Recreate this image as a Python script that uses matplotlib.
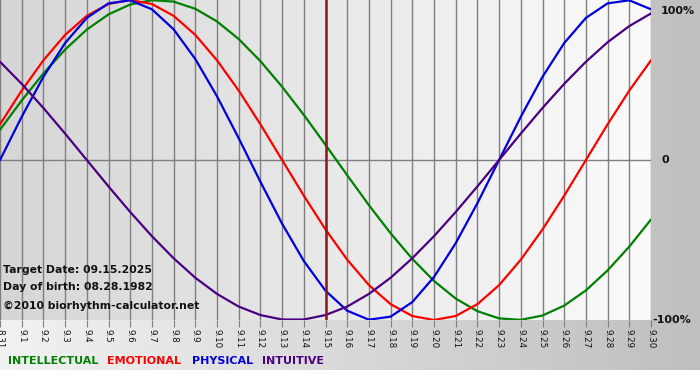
import numpy as np
import matplotlib
matplotlib.use('Agg')
import matplotlib.pyplot as plt
from matplotlib.colors import LinearSegmentedColormap

# ===== DADOS =====
day_labels = ['8.31'] + ['9.%d' % d for d in range(1, 31)]

physical = [0.000, 0.270, 0.520, 0.731, 0.888, 0.979, 0.998, 0.942, 0.817, 0.631,
            0.398, 0.136, -0.136, -0.398, -0.631, -0.817, -0.942, -0.998, -0.979, -0.888,
            -0.731, -0.520, -0.270, 0.000, 0.270, 0.520, 0.731, 0.888, 0.979, 0.998, 0.942]
emotional = [0.223, 0.434, 0.623, 0.782, 0.901, 0.975, 1.000, 0.975, 0.901, 0.782,
             0.623, 0.434, 0.223, 0.000, -0.223, -0.434, -0.623, -0.782, -0.901, -0.975,
             -1.000, -0.975, -0.901, -0.782, -0.623, -0.434, -0.223, 0.000, 0.223, 0.434, 0.623]
intellectual = [0.189, 0.372, 0.541, 0.690, 0.815, 0.910, 0.972, 0.999, 0.990, 0.945,
                0.866, 0.756, 0.618, 0.458, 0.282, 0.095, -0.095, -0.282, -0.458, -0.618,
                -0.756, -0.866, -0.945, -0.990, -0.999, -0.972, -0.910, -0.815, -0.690, -0.541, -0.372]
intuitive = [0.614, 0.476, 0.325, 0.165, 0.000, -0.165, -0.325, -0.476, -0.614, -0.736,
             -0.837, -0.916, -0.969, -0.997, -0.997, -0.969, -0.916, -0.837, -0.736, -0.614,
             -0.476, -0.325, -0.165, 0.000, 0.165, 0.325, 0.476, 0.614, 0.736, 0.837, 0.916]

target_idx = 15
y_labels = ['100%', '0', '-100%']
y_values = [1, 0, -1]

series = [
    ('INTELLECTUAL', intellectual, '#008000'),
    ('EMOTIONAL', emotional, '#ff0000'),
    ('PHYSICAL', physical, '#0000dd'),
    ('INTUITIVE', intuitive, '#4b0082'),
]

W, H = 700, 380
fig = plt.figure(figsize=(W / 100, H / 100), dpi=100)

# fundo externo (gradiente claro -> cinza)
bg = fig.add_axes([0, 10 / H, 1, 370 / H])
bg.set_axis_off()
grad = np.linspace(0, 1, 256).reshape(1, -1)
cm_out = LinearSegmentedColormap.from_list('out', ['#f2f2f2', '#bfbfbf'])
bg.imshow(grad, aspect='auto', cmap=cm_out, extent=[0, 1, 0, 1])
bg.set_xlim(0, 1)
bg.set_ylim(0, 1)

# ===== GRÁFICO =====
ax = fig.add_axes([0, 60 / H, 651 / W, 320 / H])
x = np.arange(len(day_labels))
cm_in = LinearSegmentedColormap.from_list('in', ['#d6d6d6', '#fbfbfb'])
ax.imshow(grad, aspect='auto', cmap=cm_in, extent=[0, 30, -1, 1], zorder=0)

for xi in x:
    ax.axvline(xi, color='#7f7f7f', linewidth=1, zorder=1)
ax.axhline(0, color='#7f7f7f', linewidth=1, zorder=1)

for name, vals, col in series:
    ax.plot(x, vals, color=col, linewidth=1.6, zorder=3, solid_capstyle='round')

ax.axvline(target_idx, color='#8b1a1a', linewidth=1.8, zorder=4)

ax.set_xlim(0, 30)
ax.set_ylim(-1, 1)
ax.set_xticks(x)
ax.set_xticklabels(day_labels, rotation=-90, fontsize=6.3, color='#111111')
ax.tick_params(axis='x', length=5, color='#7f7f7f', pad=1.5)
ax.set_yticks([])
for s in ax.spines.values():
    s.set_visible(False)

# rótulos do eixo direito
y_pos = [0.93, 0, -1]
x_off = [10 / 651, 10 / 651, 1 / 651]
for yp, xo, lab in zip(y_pos, x_off, y_labels):
    ax.text(1.0 + xo, yp, lab, transform=ax.get_yaxis_transform(), fontsize=8,
            fontweight='bold', color='#111111', va='center', ha='left')

info = ['Target Date: 09.15.2025', 'Day of birth: 08.28.1982', '\u00a92010 biorhythm-calculator.net']
info_y = [270, 287, 306]
for t, py in zip(info, info_y):
    fig.text(3 / W, 1 - py / H, t, fontsize=7.8, fontweight='bold', color='#111111', va='center')

# ===== LEGENDA =====
leg_x = [8, 107, 192, 262]
for (name, vals, col), px in zip(series, leg_x):
    fig.text(px / W, 1 - 361 / H, name, fontsize=8, fontweight='bold', color=col, va='center')

plt.savefig('out.png', dpi=100)
